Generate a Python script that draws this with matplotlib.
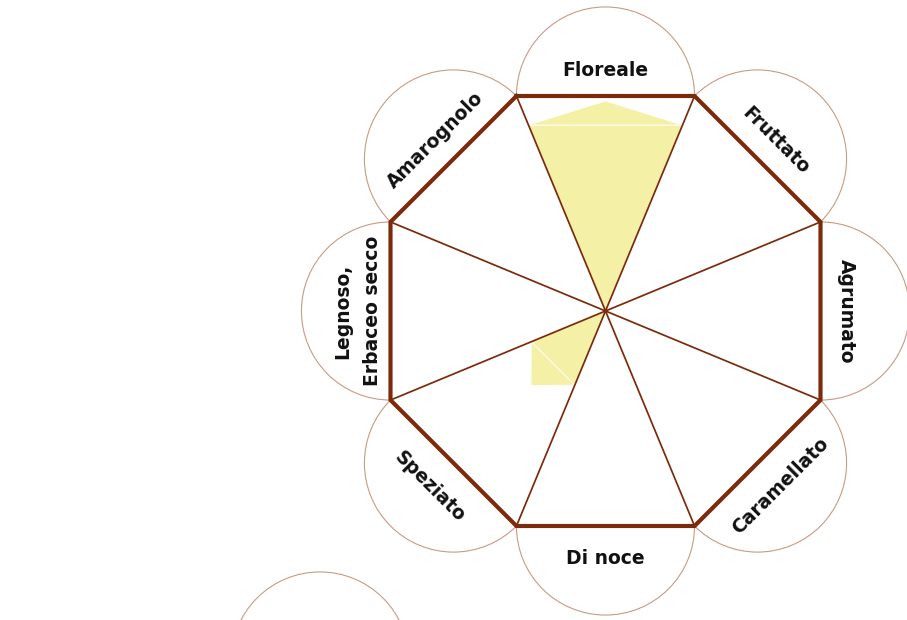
import numpy as np
import matplotlib.pyplot as plt
from matplotlib.patches import Circle, Polygon

# categories clockwise from the top
labels = ['Floreale', 'Fruttato', 'Agrumato', 'Caramellato',
          'Di noce', 'Speziato', 'Legnoso,\nErbaceo secco', 'Amarognolo']
# filled level and tip level, as fraction of the scale (0..1)
base = [0.865, 0, 0, 0, 0, 0.345, 0, 0]
tip = [0.977, 0, 0, 0, 0, 0.49, 0, 0]

brown = '#7b2a0c'
ring = '#c99a84'
yellow = '#f4f0a6'

W, H = 907, 620
fig = plt.figure(figsize=(W / 100, H / 100), dpi=100)
ax = fig.add_axes([0, 0, 1, 1])
ax.set_xlim(0, W)
ax.set_ylim(H, 0)
ax.set_aspect('equal')
ax.axis('off')

cx, cy = 605.5, 311
apo = 215.0                       # centre to edge midpoint
R = apo / np.cos(np.pi / 8)       # centre to vertex
n = len(labels)

# screen angles (y grows downwards); midline of category i points to -90 + 45*i
mid = np.deg2rad(-90 + 45 * np.arange(n))
vert = np.deg2rad(-90 - 22.5 + 45 * np.arange(n + 1))
vx = cx + R * np.cos(vert)
vy = cy + R * np.sin(vert)

# circles on each edge
half = R * np.sin(np.pi / 8)
for a in mid:
    ax.add_patch(Circle((cx + apo * np.cos(a), cy + apo * np.sin(a)), half,
                        facecolor='white', edgecolor=ring, lw=0.8, zorder=1))
# stray circle at the bottom left
ax.add_patch(Circle((320, 661), half, facecolor='white', edgecolor=ring,
                    lw=0.8, zorder=1))

ax.add_patch(Polygon(np.c_[vx[:-1], vy[:-1]], closed=True, facecolor='white',
                     edgecolor='none', zorder=2))

# value wedges
for i in range(n):
    if base[i] <= 0:
        continue
    r0 = base[i] * apo / np.cos(np.pi / 8)
    a1, a2 = vert[i], vert[i + 1]
    p1 = (cx + r0 * np.cos(a1), cy + r0 * np.sin(a1))
    p2 = (cx + r0 * np.cos(a2), cy + r0 * np.sin(a2))
    pt = (cx + tip[i] * apo * np.cos(mid[i]), cy + tip[i] * apo * np.sin(mid[i]))
    ax.add_patch(Polygon([(cx, cy), p1, p2], closed=True, facecolor=yellow,
                         edgecolor='white', lw=0.6, zorder=3))
    ax.add_patch(Polygon([p1, pt, p2], closed=True, facecolor=yellow,
                         edgecolor='white', lw=0.6, zorder=3))

# spokes and octagon
for x, y in zip(vx[:-1], vy[:-1]):
    ax.plot([cx, x], [cy, y], color=brown, lw=1.25, zorder=4)
ax.plot(vx, vy, color=brown, lw=3.0, solid_joinstyle='miter', zorder=5)

# labels
lr = 244.5
for lab, a in zip(labels, mid):
    theta = -np.rad2deg(a)                  # math angle
    rot = (theta - 90) % 360
    if 90 < rot < 270:
        rot -= 180
    # small shift along the text's own "down" direction
    s = -3.5 if '\n' in lab else 3.5
    r = np.deg2rad(rot)
    dx, dy = s * np.sin(r), s * np.cos(r)
    ax.text(cx + lr * np.cos(a) + dx, cy + lr * np.sin(a) + dy, lab,
            rotation=rot, rotation_mode='anchor', ha='center', va='center',
            fontsize=13.5, fontweight='bold', family='DejaVu Sans',
            color='#111111', linespacing=1.75, zorder=6)

fig.savefig('out.png', dpi=100)
